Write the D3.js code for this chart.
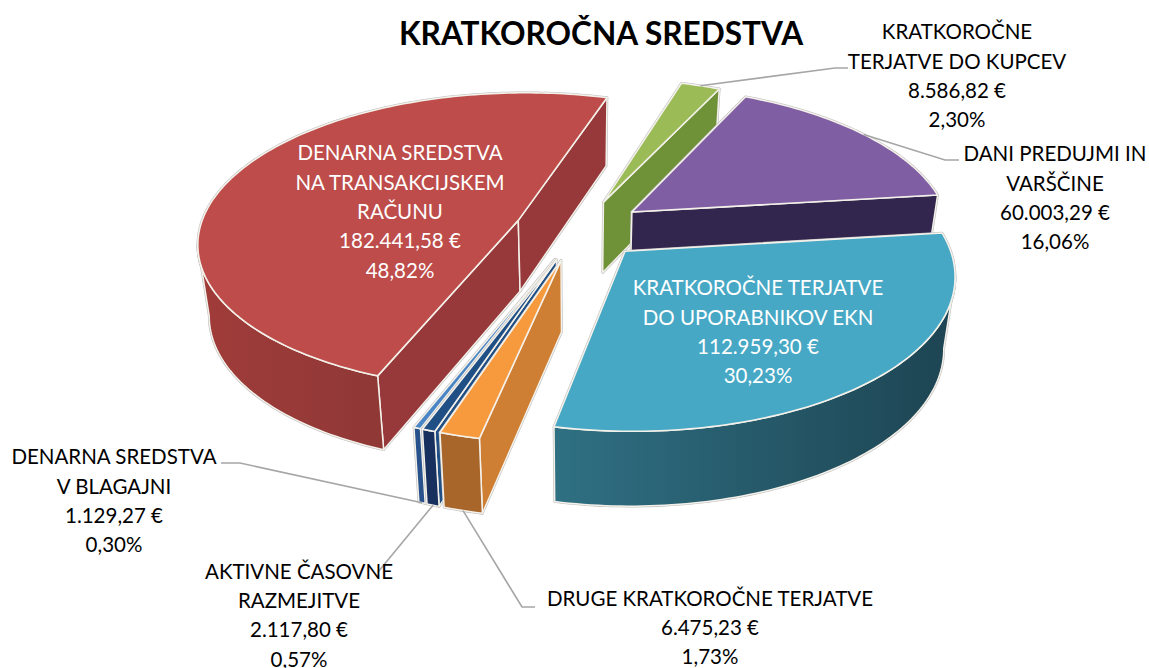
<!DOCTYPE html>
<html>
<head>
<meta charset="utf-8">
<script src="https://cdn.jsdelivr.net/npm/d3@7"></script>
<style>
html, body { margin: 0; padding: 0; background: #fff; }
svg { display: block; }
text { font-family: Lato, "Open Sans", sans-serif; text-anchor: middle; }
</style>
</head>
<body>
<svg width="1149" height="668"></svg>
<script>
// slices, clockwise starting from the right edge of the blue-green one
var keys = ['uporabniki', 'druge', 'razmejitve', 'blagajna', 'racun', 'kupci', 'predujmi'];
var values = [112959.30, 6475.23, 2117.80, 1129.27, 182441.58, 8586.82, 60003.29];
var nameLines = [
    ['KRATKOROČNE TERJATVE', 'DO UPORABNIKOV EKN'],
    ['DRUGE KRATKOROČNE TERJATVE'],
    ['AKTIVNE ČASOVNE', 'RAZMEJITVE'],
    ['DENARNA SREDSTVA', 'V BLAGAJNI'],
    ['DENARNA SREDSTVA', 'NA TRANSAKCIJSKEM', 'RAČUNU'],
    ['KRATKOROČNE', 'TERJATVE DO KUPCEV'],
    ['DANI PREDUJMI IN', 'VARŠČINE']
];
var valueLabels = ['112.959,30 €', '6.475,23 €', '2.117,80 €', '1.129,27 €', '182.441,58 €', '8.586,82 €', '60.003,29 €'];
var percentLabels = ['30,23%', '1,73%', '0,57%', '0,30%', '48,82%', '2,30%', '16,06%'];

// styling and layout per slice
var topColors = ['#46a8c5', '#f79a3e', '#1f4f85', '#4a86c5', '#bd4c4a', '#9abb55', '#7f5ea3'];
var wallColors = [['#2f7083', '#1d4452'], ['#a9662a', '#a9662a'], ['#17305e', '#17305e'], ['#28528c', '#28528c'], ['#a03c3a', '#8f3836'], ['#6f9138', '#6f9138'], ['#33264e', '#33264e']];
var faceColors = ['#2f7083', '#cf7f33', '#1f4f85', '#4a86c5', '#97393a', '#6f9138', '#33264e'];
var nudge = [[3, -1], [0, 1], [0, 1], [0, 1], [0, 0], [3, -1], [3, -1]];
var labelX = [758, 710, 299, 114, 400, 957, 1055];
var labelY = [288, 598.5, 571.5, 457, 153, 32, 154];
var labelFill = ['#fff', '#000', '#000', '#000', '#fff', '#000', '#000'];
var leaderKnee = [null, [522, 607, 535], [378, 572, 378], [240, 463, 221], null, [835, 68, 848], [945, 160, 959]];
var drawOrder = [5, 6, 4, 3, 2, 1, 0];

var lineStep = 29.3;
var labelSize = 20.5;

// projection of the tilted disc
var cx = 578, cy = 230;
var tilt = 0.14;
var explode = 0.2;
var depth = 71;
var converge = 0.03;
var sx = d3.scaleLinear().domain([-1, 1]).range([-319, 319]);
var sy = d3.scaleLinear().domain([-1, 1]).range([-148, 148]);
var firstAngle = Math.PI * 83.1 / 180;

function project(X, Y, n) {
    var w = 1 - tilt * Y;
    return { x: cx + sx(X) / w + n[0], y: cy + sy(Y) / w + n[1], w: w };
}
function drop(p) {
    return { x: p.x - (p.x - cx) * converge, y: p.y + depth / Math.pow(p.w, 0.3) };
}

var pie = d3.pie().sort(null).value(function (d) { return d; })
    .startAngle(firstAngle)
    .endAngle(firstAngle + 2 * Math.PI);

var arcs = pie(values);
var line = d3.line().x(function (p) { return p.x; }).y(function (p) { return p.y; });

var svg = d3.select('svg');
var defs = svg.append('defs');

var slices = arcs.map(function (a, i) {
    var a0 = a.startAngle - Math.PI / 2;
    var a1 = a.endAngle - Math.PI / 2;
    var mid = (a0 + a1) / 2;
    var ox = explode * Math.cos(mid), oy = explode * Math.sin(mid);
    var n = nudge[i];
    var steps = Math.max(2, Math.ceil((a1 - a0) / 0.02));
    var rim = d3.range(steps + 1).map(function (k) {
        var t = a0 + (a1 - a0) * k / steps;
        return project(ox + Math.cos(t), oy + Math.sin(t), n);
    });
    return {
        i: i,
        apex: project(ox, oy, n),
        rim: rim,
        rimMid: project(ox + Math.cos(mid), oy + Math.sin(mid), n),
        inner: project(ox + 0.5 * Math.cos(mid), oy + 0.5 * Math.sin(mid), n)
    };
});

// gradient for outer walls
wallColors.forEach(function (c, i) {
    var g = defs.append('linearGradient').attr('id', 'wall' + i)
        .attr('x1', 0).attr('x2', 1).attr('y1', 0).attr('y2', 0);
    g.append('stop').attr('offset', 0).attr('stop-color', c[0]);
    g.append('stop').attr('offset', 1).attr('stop-color', c[1]);
});

function faceVisible(s, p) {
    var ex = p.x - s.apex.x, ey = p.y - s.apex.y;
    var ix = s.inner.x - s.apex.x, iy = s.inner.y - s.apex.y;
    return ex * (ex * iy - ey * ix) < 0;
}

function faces(s) {
    var out = [];
    [s.rim[0], s.rim[s.rim.length - 1]].forEach(function (p) {
        if (faceVisible(s, p)) {
            out.push({ pts: [s.apex, p, drop(p), drop(s.apex)], fill: faceColors[s.i] });
        }
    });
    // only the part of the rim that faces the viewer
    var run = s.rim.filter(function (p, k) {
        var next = s.rim[k + 1], prev = s.rim[k - 1];
        return (next && next.x < p.x) || (prev && p.x < prev.x);
    });
    if (run.length > 1) {
        out.push({ pts: run.concat(run.slice().reverse().map(drop)), fill: 'url(#wall' + s.i + ')' });
    }
    return out;
}

function drawSlice(s) {
    var g = svg.append('g').attr('class', 'slice ' + keys[s.i]);
    var list = faces(s);
    var top = [s.apex].concat(s.rim);

    // grey halo around the whole solid
    list.concat([{ pts: top }]).forEach(function (f) {
        g.append('path').attr('d', line(f.pts) + 'Z')
            .attr('fill', 'none').attr('stroke', '#bdbdbd').attr('stroke-width', 2.6)
            .attr('stroke-linejoin', 'round');
    });
    list.forEach(function (f) {
        g.append('path').attr('d', line(f.pts) + 'Z')
            .attr('fill', f.fill).attr('stroke', '#f4f1ea').attr('stroke-width', 1.5)
            .attr('stroke-linejoin', 'round');
    });
    g.append('path').attr('d', line(top) + 'Z')
        .attr('fill', topColors[s.i]).attr('stroke', '#f4f1ea').attr('stroke-width', 1.6)
        .attr('stroke-linejoin', 'round');
}

drawOrder.forEach(function (i) { drawSlice(slices[i]); });

// leader lines
leaderKnee.forEach(function (k, i) {
    if (!k) return;
    var s = slices[i];
    var from = s.rimMid.y > cy ? drop(s.rimMid) : s.rimMid;
    svg.append('polyline')
        .attr('points', [[from.x, from.y], [k[0], k[1]], [k[2], k[1]]].join(' '))
        .attr('fill', 'none').attr('stroke', '#a6a6a6').attr('stroke-width', 1.6);
});

// labels
nameLines.forEach(function (names, i) {
    var rows = names.concat([valueLabels[i], percentLabels[i]]);
    svg.append('g').selectAll('text').data(rows).enter().append('text')
        .attr('x', labelX[i])
        .attr('y', function (d, k) { return labelY[i] + k * lineStep; })
        .attr('dy', '0.36em')
        .attr('font-size', labelSize)
        .attr('fill', labelFill[i])
        .text(function (d) { return d; });
});

svg.append('text').attr('x', 601).attr('y', 34).attr('dy', '0.36em')
    .attr('font-size', 31.6).attr('font-weight', 700).attr('fill', '#000')
    .text('KRATKOROČNA SREDSTVA');
</script>
</body>
</html>
